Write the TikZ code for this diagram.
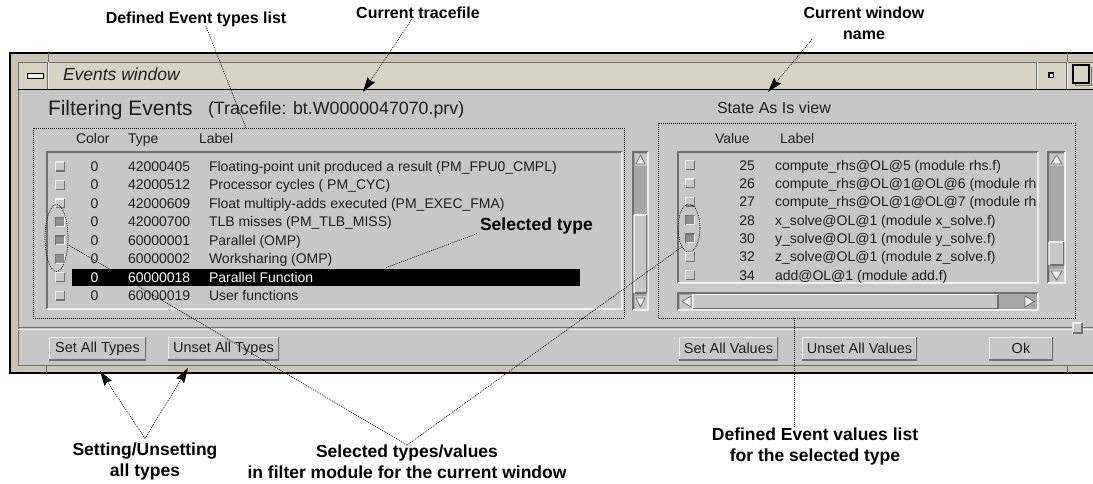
\documentclass[tikz,border=0pt]{standalone}
\usepackage{fontspec}
\setmainfont{Liberation Sans}
\usetikzlibrary{shapes.geometric,arrows.meta,calc}

\definecolor{uibg}{RGB}{199,199,199}
\definecolor{uititle}{RGB}{214,211,194}
\definecolor{uiframe}{RGB}{200,197,180}
\definecolor{uilight}{RGB}{238,238,238}
\definecolor{uidark}{RGB}{112,112,112}
\definecolor{uitrough}{RGB}{166,166,166}
\definecolor{uisel}{RGB}{142,142,142}
\definecolor{uitext}{RGB}{30,30,30}

% bevelled rectangle edges: x1,y1,x2,y2,top-left colour,bottom-right colour
\newcommand{\uibevel}[6]{%
  \draw[#5,line width=1.5pt] (#1,#4) -- (#1,#2) -- (#3,#2);
  \draw[#6,line width=1.5pt] (#1,#4) -- (#3,#4) -- (#3,#2);}

% vertical scrollbar: x1,y1,x2,y2,thumb top,thumb bottom
\newcommand{\uivscroll}[6]{%
  \fill[uitrough] (#1,#2) rectangle (#3,#4);
  \uibevel{#1}{#2}{#3}{#4}{uidark}{uilight}
  \fill[uibg] ($(#1,#2)+(1.5,1.5)$) rectangle ($(#3,#2)+(-1.5,14)$);
  \draw[uidark,fill=uilight,line width=0.8pt,line join=round]
    ($(#1,#2)+(3,12)$) -- ($(#1,#2)!0.5!(#3,#2)+(0,3)$) -- ($(#3,#2)+(-3,12)$) -- cycle;
  \fill[uibg] (#1,#5) rectangle (#3,#6);
  \uibevel{#1+1.5}{#5}{#3-1.5}{#6}{uilight}{uidark}
  \fill[uibg] ($(#1,#4)+(1.5,-14)$) rectangle ($(#3,#4)+(-1.5,-1.5)$);
  \draw[uidark,fill=uilight,line width=0.8pt,line join=round]
    ($(#1,#4)+(3,-12)$) -- ($(#1,#4)!0.5!(#3,#4)+(0,-3)$) -- ($(#3,#4)+(-3,-12)$) -- cycle;}

\tikzset{
  every node/.style={inner sep=0pt,outer sep=0pt},
  rowtxt/.style={font=\fontsize{14}{16}\selectfont,anchor=base west,text=uitext},
  annot/.style={font=\fontsize{17.5}{21}\selectfont\bfseries,align=center},
  dotline/.style={black,line width=0.7pt,dash pattern=on 0.9pt off 1.1pt},
  framedot/.style={black,line width=0.8pt,dash pattern=on 0.9pt off 1.1pt},
  tip/.style={-{Stealth[length=15pt,width=9pt,inset=2pt]}},
  uibtn/.style={fill=uibg,minimum height=23pt,font=\fontsize{14.5}{16}\selectfont,text=uitext,
    path picture={
      \draw[uilight,line width=2.4pt] (path picture bounding box.south west) --
        (path picture bounding box.north west) -- (path picture bounding box.north east);
      \draw[uidark,line width=2.4pt] (path picture bounding box.south west) --
        (path picture bounding box.south east) -- (path picture bounding box.north east);}},
  chkoff/.pic={
    \fill[uibg] (-5,-5) rectangle (5,5);
    \draw[uilight,line width=1.3pt] (-4.4,4.4) -- (-4.4,-4.4) -- (4.4,-4.4);
    \draw[uidark,line width=1.3pt] (-4.4,4.4) -- (4.4,4.4) -- (4.4,-4.4);},
  chkon/.pic={
    \fill[uisel] (-5,-5) rectangle (5,5);
    \draw[uidark,line width=1.3pt] (-4.4,4.4) -- (-4.4,-4.4) -- (4.4,-4.4);
    \draw[uilight,line width=1.3pt] (-4.4,4.4) -- (4.4,4.4) -- (4.4,-4.4);}
}

\begin{document}
\begin{tikzpicture}[x=1pt,y=-1pt]
\useasboundingbox (0,0) rectangle (1093,483);
\fill[white] (0,0) rectangle (1093,483);

% ---- window frame and title bar ----
\fill[uiframe] (10,53) rectangle (1093,373);
\draw[black,line width=1.2pt] (1093,53) -- (10,53) -- (10,373) -- (1093,373);
\draw[uidark] (48,53) -- (48,62) (1067,53) -- (1067,62) (46,365) -- (46,373) (1067,365) -- (1067,373);
\fill[uititle] (18,62) rectangle (1093,89);
\fill[uibg] (18,89.5) rectangle (1093,365);
\draw[uidark,line width=1pt] (1093,62) -- (18,62) -- (18,365) -- (1093,365);
\draw[black,line width=1pt] (18,89) -- (1093,89);
\foreach \sx in {48,1037,1067}{
  \draw[uidark,line width=0.8pt] (\sx-0.6,62) -- (\sx-0.6,89);
  \draw[uilight,line width=0.8pt] (\sx+0.6,62) -- (\sx+0.6,89);
}
\draw[black,line width=1pt,fill=uilight] (27,73) rectangle (43,78);
\draw[black,line width=1.4pt,fill=uilight] (1049,73) rectangle (1053.5,77.5);
\draw[uidark,line width=1pt] (1075.5,67.5) rectangle (1091.5,85.5);
\draw[black,line width=1.5pt,fill=uititle] (1073,65) rectangle (1089,83);
\node[anchor=base west,font=\fontsize{17.5}{20}\selectfont\itshape,text=uitext] (wtitle) at (63,80) {Events window};

% ---- headings ----
\node[anchor=base west,font=\fontsize{21}{24}\selectfont,text=uitext] (filt) at (48,115) {Filtering Events};
\node[anchor=base west,font=\fontsize{17.8}{20}\selectfont,text=uitext] (trace) at (208,114) {(Tracefile: bt.W0000047070.prv)};
\node[anchor=base west,font=\fontsize{16}{18}\selectfont,text=uitext] (wname) at (717,113) {State As Is view};

% ---- group frames ----
\draw[framedot] (33,128) rectangle (624,318);
\draw[framedot] (658,123) rectangle (1075,318);

% ---- event types list ----
\node[rowtxt] (hcol) at (76,143) {Color};
\node[rowtxt] (htyp) at (128,143) {Type};
\node[rowtxt] (hlab) at (199,143) {Label};
\fill[uibg] (47,152) rectangle (622,309);
\uibevel{47}{152}{622}{309}{uidark}{uilight}
\fill[black] (72,268.5) rectangle (580,285.5);
\foreach \i/\ty/\lb/\tc in {
  0/42000405/{Floating-point unit produced a result (PM\_FPU0\_CMPL)}/uitext,
  1/42000512/{Processor cycles ( PM\_CYC)}/uitext,
  2/42000609/{Float multiply-adds executed (PM\_EXEC\_FMA)}/uitext,
  3/42000700/{TLB misses (PM\_TLB\_MISS)}/uitext,
  4/60000001/{Parallel (OMP)}/uitext,
  5/60000002/{Worksharing (OMP)}/uitext,
  6/60000018/{Parallel Function}/white,
  7/60000019/{User functions}/uitext}{
  \pgfmathsetmacro\yb{171.5+18.45*\i}
  \node[rowtxt,anchor=base,text=\tc] (lz\i) at (94.5,\yb) {0};
  \node[rowtxt,text=\tc] (lt\i) at (128,\yb) {\ty};
  \node[rowtxt,text=\tc] (ll\i) at (209,\yb) {\lb};
}
\foreach \i in {0,1,2,6,7}{\pic at (60,{166.5+18.45*\i}) {chkoff};}
\foreach \i in {3,4,5}{\pic at (60,{166.5+18.45*\i}) {chkon};}
\uivscroll{633}{152}{648}{310}{215}{293}

% ---- event values list ----
\node[rowtxt] (hval) at (715,143) {Value};
\node[rowtxt] (hlab2) at (780,143) {Label};
\fill[uibg] (678,152) rectangle (1038,283);
\uibevel{678}{152}{1038}{283}{uidark}{uilight}
\begin{scope}
  \clip (680,153) rectangle (1036.5,282);
  \foreach \i/\v/\lb in {
    0/25/{compute\_rhs@OL@5 (module rhs.f)},
    1/26/{compute\_rhs@OL@1@OL@6 (module rhs.f)},
    2/27/{compute\_rhs@OL@1@OL@7 (module rhs.f)},
    3/28/{x\_solve@OL@1 (module x\_solve.f)},
    4/30/{y\_solve@OL@1 (module y\_solve.f)},
    5/32/{z\_solve@OL@1 (module z\_solve.f)},
    6/34/{add@OL@1 (module add.f)}}{
    \pgfmathsetmacro\yb{170+18.35*\i}
    \node[rowtxt,anchor=base east] (rv\i) at (755,\yb) {\v};
    \node[rowtxt] (rl\i) at (775,\yb) {\lb};
  }
\end{scope}
\foreach \i in {0,1,2,5,6}{\pic at (690,{165+18.35*\i}) {chkoff};}
\foreach \i in {3,4}{\pic at (690,{165+18.35*\i}) {chkon};}
\uivscroll{1048}{152}{1065}{283}{242}{265}
% horizontal scrollbar
\fill[uitrough] (678,293) rectangle (1038,310);
\uibevel{678}{293}{1038}{310}{uidark}{uilight}
\fill[uibg] (680,294.5) rectangle (693,308.5);
\draw[uidark,fill=uilight,line width=0.8pt,line join=round] (691,296) -- (682,301.5) -- (691,307) -- cycle;
\fill[uibg] (693,294.5) rectangle (998,308.5);
\uibevel{693}{294.5}{998}{308.5}{uilight}{uidark}
\draw[uidark,fill=uilight,line width=0.8pt,line join=round] (1025,296) -- (1034,301.5) -- (1025,307) -- cycle;

% ---- separator and buttons ----
\draw[uidark,line width=0.8pt] (18,327.5) -- (1093,327.5);
\draw[uilight,line width=0.8pt] (18,329) -- (1093,329);
\fill[uibg] (1073,323) rectangle (1082,333);
\uibevel{1073}{323}{1082}{333}{uilight}{uidark}
\node[uibtn,minimum width=97pt] (bSetT) at (97.5,348.5) {Set All Types};
\node[uibtn,minimum width=111pt] (bUnsetT) at (223.5,348.5) {Unset All Types};
\node[uibtn,minimum width=99pt] (bSetV) at (728.5,348.5) {Set All Values};
\node[uibtn,minimum width=115pt] (bUnsetV) at (859.5,348.5) {Unset All Values};
\node[uibtn,minimum width=64pt] (bOk) at (1021,348.5) {Ok};

% ---- selection marks ----
\node[ellipse,draw,dotline,minimum width=23pt,minimum height=67pt] (selL) at (56.5,238) {};
\node[ellipse,draw,dotline,minimum width=22pt,minimum height=48pt] (selR) at (689,228) {};

% ---- callouts ----
\node[annot,font=\fontsize{16}{21}\selectfont\bfseries] (aTypes) at (196,19) {Defined Event types list};
\node[annot,font=\fontsize{16}{21}\selectfont\bfseries] (aTrace) at (418,13) {Current tracefile};
\node[annot,font=\fontsize{16}{21}\selectfont\bfseries] (aWin) at (864,23) {Current window\\name};
\node[annot,anchor=base west] (aSel) at (480,230) {Selected type};
\node[annot] (aSet) at (145,461) {Setting/Unsetting\\all types};
\node[annot] (aSV) at (407,462) {Selected types/values\\in filter module for the current window};
\node[annot] (aVal) at (815,446) {Defined Event values list\\for the selected type};

\coordinate (tTypes) at (246,128);
\coordinate (tTrace) at (363,92);
\coordinate (tWin) at (768,92);
\coordinate (tSel) at (385,268);
\coordinate (tSetT) at (100,371);
\coordinate (tUnsetT) at (188,368);
\coordinate (tVal) at (794,318);

\draw[dotline] ([xshift=10pt]aTypes.south) -- (tTypes);
\draw[dotline,tip] ([xshift=-6pt]aTrace.south) -- (tTrace);
\draw[dotline,tip] ([xshift=-52pt]aWin.south) -- (tWin);
\draw[dotline] ([xshift=-3pt]aSel.south west) -- (tSel);
\draw[dotline,tip] ([yshift=4pt]aSet.north) -- (tSetT);
\draw[dotline,tip] ([yshift=4pt]aSet.north) -- (tUnsetT);
\draw[dotline] (aSV.north) -- (selL.-30);
\draw[dotline] (aSV.north) -- (selR.-110);
\draw[dotline] (aVal.north -| tVal) -- (tVal);
\end{tikzpicture}
\end{document}
